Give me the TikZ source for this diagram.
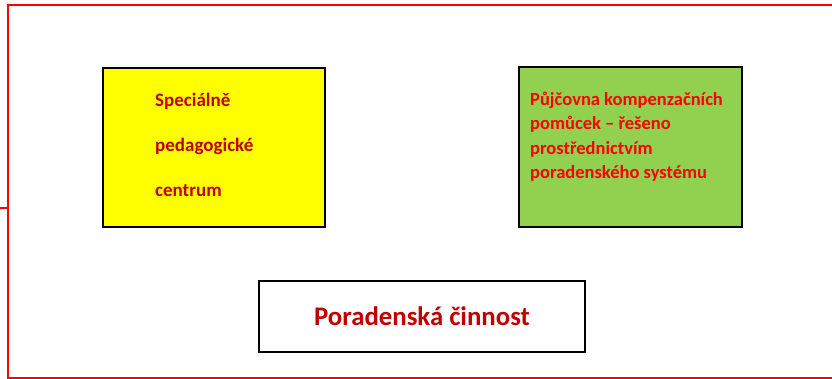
\documentclass[tikz,border=0pt]{standalone}
\usepackage{fontspec}
\setmainfont{Carlito}
\usepackage{xcolor}
\usepackage{tikz}

\definecolor{boxyellow}{HTML}{FFFF00}
\definecolor{boxgreen}{HTML}{92D050}
\definecolor{darkred}{HTML}{C00000}
\definecolor{framered}{HTML}{FF0000}

\tikzset{
  box/.style={draw=black, line width=1.5pt, inner sep=0pt},
  boxtext/.style={font=\bfseries, align=left, inner sep=0pt, anchor=base west}
}

\begin{document}
\begin{tikzpicture}[x=1pt, y=-1pt]
                \useasboundingbox (0,0) rectangle (832,379);
                % Red frame
                \draw[framered, line width=2pt] (850,5.5) -- (7.5,5.5) -- (7.5,377.5) -- (850,377.5);
                \draw[framered, line width=2pt] (0,208) -- (7.5,208);
                
                % Boxes
                \node[box, fill=boxyellow, minimum width=222pt, minimum height=159pt] (spc) at (214,147.5) {};
                \node[box, fill=boxgreen, minimum width=223pt, minimum height=160pt] (pujc) at (630.5,147) {};
                \node[box, fill=white, minimum width=326pt, minimum height=71pt] (porad) at (422,316.5) {};
                
                % Labels (anchored at the baseline of the last line)
                \node[boxtext, darkred, font=\bfseries\fontsize{19}{45}\selectfont] (spctext) at (155,196.7)
                  {Speciálně\\pedagogické\\centrum};
                \node[boxtext, framered, font=\bfseries\fontsize{18.5}{24.3}\selectfont] (pujctext) at (530,178.5)
                  {Půjčovna kompenzačních\\pomůcek – řešeno\\prostřednictvím\\poradenského systému};
                \node[darkred, font=\bfseries\fontsize{26.8}{30}\selectfont, anchor=base, inner sep=0pt] (poradtext) at (porad.center |- 0,325)
                  {Poradenská činnost};
            \end{tikzpicture}
\end{document}
